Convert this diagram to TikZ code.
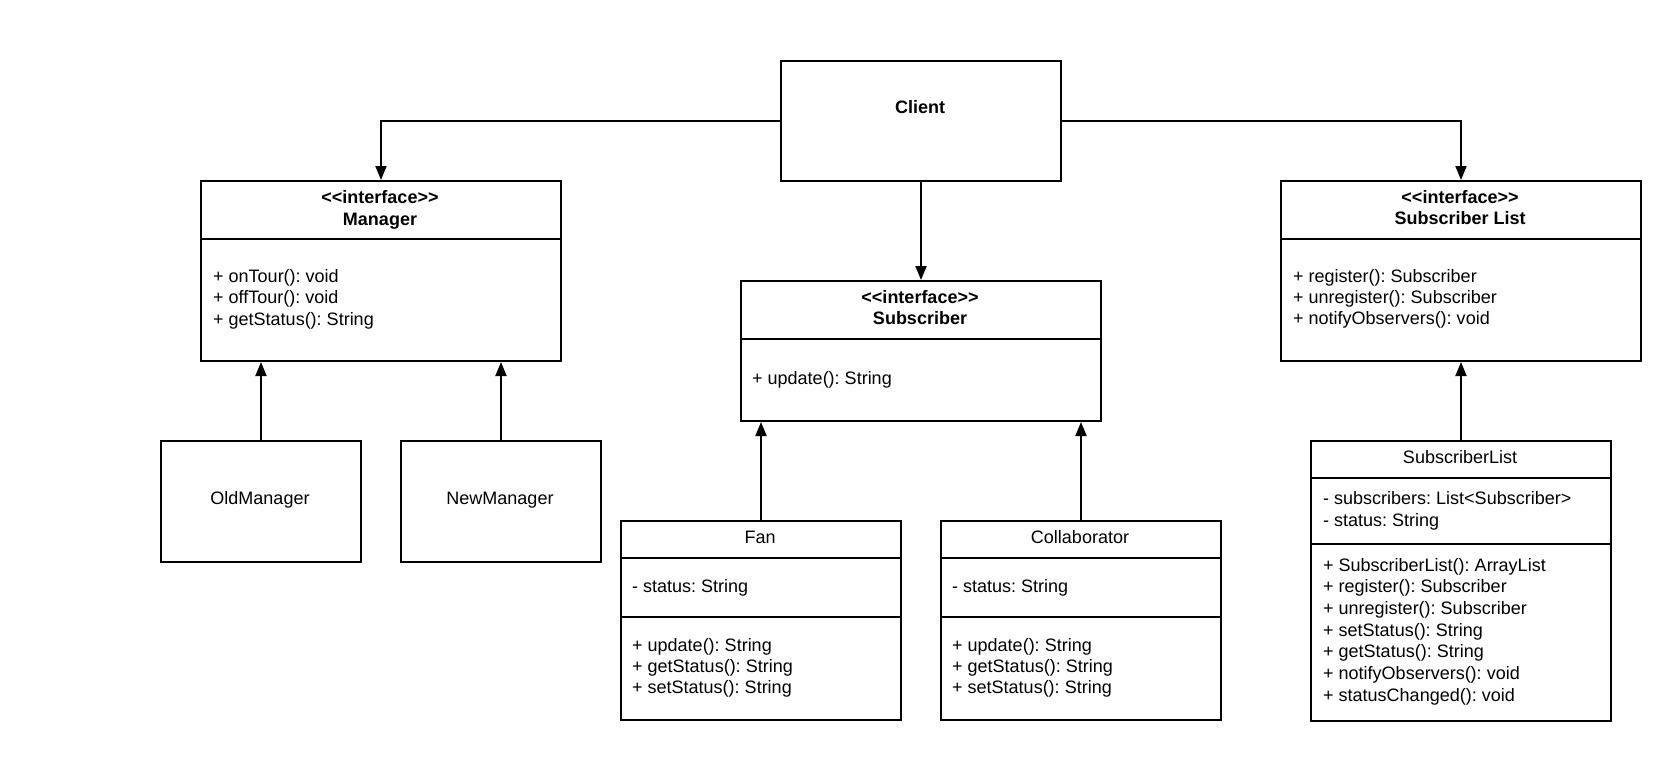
\documentclass[tikz,border=0pt]{standalone}
\usepackage{fontspec}
\setmainfont{Liberation Sans}
\usetikzlibrary{arrows.meta}
\frenchspacing
\begin{document}
\begin{tikzpicture}[x=1pt,y=-1pt,
  box/.style={draw, line width=2pt, inner sep=0pt, anchor=north west},
  sep/.style={line width=2pt},
  txt/.style={inner sep=0pt, font=\fontsize{18}{21.6}\selectfont\frenchspacing},
  ttl/.style={txt, anchor=base},
  bttl/.style={ttl, font=\fontsize{18}{21.6}\selectfont\bfseries},
  mem/.style={txt, anchor=base west},
  conn/.style={line width=2pt, -{Triangle[length=14pt,width=11pt]}},
  gen/.style={line width=2pt, -{Triangle[length=14pt,width=11pt]}}]
\useasboundingbox (0,0) rectangle (1680,760);

% Client
\node[box, minimum width=280pt, minimum height=120pt] (client) at (780,60) {};
\node[bttl] (client-t) at (920,113) {Client};

% Manager interface
\node[box, minimum width=360pt, minimum height=180pt] (mgr) at (200,180) {};
\draw[sep] (mgr.west |- 0,239) -- (mgr.east |- 0,239);
\node[bttl] (mgr-s) at (380,203) {<\kern0pt<interface>\kern0pt>};
\node[bttl] (mgr-t) at (380,225) {Manager};
\node[mem] (mgr-m1) at (213,282) {+ onTour(): void};
\node[mem] (mgr-m2) at (213,303.5) {+ offTour(): void};
\node[mem] (mgr-m3) at (213,325) {+ getStatus(): String};

% Subscriber interface
\node[box, minimum width=360pt, minimum height=140pt] (sub) at (740,280) {};
\draw[sep] (sub.west |- 0,339) -- (sub.east |- 0,339);
\node[bttl] (sub-s) at (920,303) {<\kern0pt<interface>\kern0pt>};
\node[bttl] (sub-t) at (920,324.5) {Subscriber};
\node[mem] (sub-m1) at (752,384) {+ update(): String};

% Subscriber List interface
\node[box, minimum width=360pt, minimum height=180pt] (sli) at (1280,180) {};
\draw[sep] (sli.west |- 0,239) -- (sli.east |- 0,239);
\node[bttl] (sli-s) at (1460,203) {<\kern0pt<interface>\kern0pt>};
\node[bttl] (sli-t) at (1460,224.5) {Subscriber List};
\node[mem] (sli-m1) at (1293,282) {+ register(): Subscriber};
\node[mem] (sli-m2) at (1293,303.5) {+ unregister(): Subscriber};
\node[mem] (sli-m3) at (1293,324.5) {+ notifyObservers(): void};

% OldManager / NewManager
\node[box, minimum width=200pt, minimum height=121pt] (oldm) at (160,440) {};
\node[ttl] (oldm-t) at (260,504.5) {OldManager};
\node[box, minimum width=200pt, minimum height=121pt] (newm) at (400,440) {};
\node[ttl] (newm-t) at (500,504.5) {NewManager};

% Fan
\node[box, minimum width=280pt, minimum height=199pt] (fan) at (620,520) {};
\draw[sep] (fan.west |- 0,557.7) -- (fan.east |- 0,557.7);
\draw[sep] (fan.west |- 0,617) -- (fan.east |- 0,617);
\node[ttl] (fan-t) at (760,543) {Fan};
\node[mem] (fan-a1) at (632,592) {- status: String};
\node[mem] (fan-m1) at (632,651) {+ update(): String};
\node[mem] (fan-m2) at (632,672.7) {+ getStatus(): String};
\node[mem] (fan-m3) at (632,693.3) {+ setStatus(): String};

% Collaborator
\node[box, minimum width=280pt, minimum height=199pt] (col) at (940,520) {};
\draw[sep] (col.west |- 0,557.7) -- (col.east |- 0,557.7);
\draw[sep] (col.west |- 0,617) -- (col.east |- 0,617);
\node[ttl] (col-t) at (1080,543) {Collaborator};
\node[mem] (col-a1) at (952,592) {- status: String};
\node[mem] (col-m1) at (952,651) {+ update(): String};
\node[mem] (col-m2) at (952,672.7) {+ getStatus(): String};
\node[mem] (col-m3) at (952,693.3) {+ setStatus(): String};

% SubscriberList class
\node[box, minimum width=300pt, minimum height=280pt] (sl) at (1310,440) {};
\draw[sep] (sl.west |- 0,477.7) -- (sl.east |- 0,477.7);
\draw[sep] (sl.west |- 0,544.3) -- (sl.east |- 0,544.3);
\node[ttl] (sl-t) at (1460,463) {SubscriberList};
\node[mem] (sl-a1) at (1323,504.3) {- subscribers: List<Subscriber>};
\node[mem] (sl-a2) at (1323,526) {- status: String};
\node[mem] (sl-m1) at (1323,571) {+ SubscriberList(): ArrayList};
\node[mem] (sl-m2) at (1323,592.7) {+ register(): Subscriber};
\node[mem] (sl-m3) at (1323,614.3) {+ unregister(): Subscriber};
\node[mem] (sl-m4) at (1323,636) {+ setStatus(): String};
\node[mem] (sl-m5) at (1323,657.7) {+ getStatus(): String};
\node[mem] (sl-m6) at (1323,679.3) {+ notifyObservers(): void};
\node[mem] (sl-m7) at (1323,701) {+ statusChanged(): void};

% connectors
\draw[conn] (client.west) -| (mgr.north);
\draw[conn] (client.east) -| (sli.north);
\draw[conn] (client.south) -- (sub.north);
\draw[gen] (oldm.north) -- (oldm.north |- mgr.south);
\draw[gen] (newm.north) -- (newm.north |- mgr.south);
\draw[gen] (fan.north) -- (fan.north |- sub.south);
\draw[gen] (col.north) -- (col.north |- sub.south);
\draw[gen] (sl.north) -- (sl.north |- sli.south);
\end{tikzpicture}
\end{document}
